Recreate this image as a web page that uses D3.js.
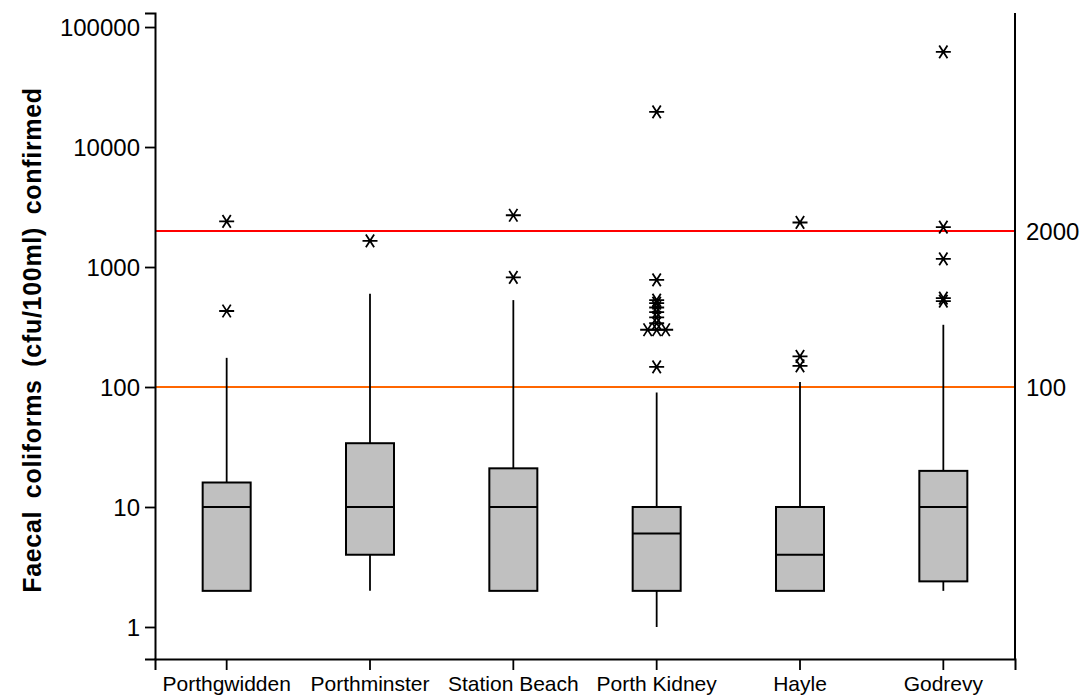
<!DOCTYPE html>
<html><head><meta charset="utf-8">
<script src="https://cdn.jsdelivr.net/npm/d3@7"></script>
<style>
body{margin:0;background:#fff;}
</style></head>
<body><svg id="c" width="1083" height="698"></svg>
<script>
const categories = ["Porthgwidden","Porthminster","Station Beach","Porth Kidney","Hayle","Godrevy"];
const q1 =        [2,   4,   2,   2,  2,   2.4];
const medians =   [10,  10,  10,  6,  4,   10];
const q3 =        [16,  34,  21,  10, 10,  20];
const whiskerLo = [2,   2,   2,   1,  2,   2];
const whiskerHi = [175, 600, 530, 90, 110, 330];
const outliers = [
  [2400, 430],
  [1650],
  [2700, 820],
  [19600, 780, 530, 500, 460, 420, 380, 340, 300, 300, 300, 147],
  [2350, 180, 150],
  [62000, 2150, 1170, 550, 520]
];
const yTicks = [1, 10, 100, 1000, 10000, 100000];
const refLines = [{value: 2000, color: "#ff0000", label: "2000"}, {value: 100, color: "#ff6600", label: "100"}];
const yTitle = "Faecal coliforms (cfu/100ml) confirmed";

const FONT = "Liberation Sans, Arial, sans-serif";
const svg = d3.select("#c");
const L = 155, R = 1015, T = 13, B = 659;
const y = d3.scaleLog().domain([0.541, 130900]).range([B, T]);
const x = d3.scaleBand().domain(categories).range([L, R]).paddingInner(0).paddingOuter(0);
const cx = c => x(c) + x.bandwidth() / 2;
const bw = 48;

// reference lines
refLines.forEach(r => {
  svg.append("line").attr("x1", L).attr("x2", R).attr("y1", y(r.value)).attr("y2", y(r.value))
    .attr("stroke", r.color).attr("stroke-width", 2);
  svg.append("text").attr("x", R + 11).attr("y", y(r.value)).attr("dy", "0.36em")
    .attr("font-family", FONT).attr("font-size", 24).text(r.label);
});

// boxes
categories.forEach((c, i) => {
  const g = svg.append("g");
  const xc = cx(c);
  g.append("line").attr("x1", xc).attr("x2", xc).attr("y1", y(q3[i])).attr("y2", y(whiskerHi[i]))
    .attr("stroke", "#000").attr("stroke-width", 1.8);
  g.append("line").attr("x1", xc).attr("x2", xc).attr("y1", y(q1[i])).attr("y2", y(whiskerLo[i]))
    .attr("stroke", "#000").attr("stroke-width", 1.8);
  g.append("rect").attr("x", xc - bw / 2).attr("width", bw).attr("y", y(q3[i]))
    .attr("height", y(q1[i]) - y(q3[i])).attr("fill", "#c0c0c0").attr("stroke", "#000").attr("stroke-width", 2);
  g.append("line").attr("x1", xc - bw / 2).attr("x2", xc + bw / 2).attr("y1", y(medians[i])).attr("y2", y(medians[i]))
    .attr("stroke", "#000").attr("stroke-width", 2);
  // outliers, ties spread horizontally
  const counts = d3.rollup(outliers[i], v => v.length, d => d);
  const seen = new Map();
  outliers[i].forEach(v => {
    const n = counts.get(v), k = seen.get(v) || 0; seen.set(v, k + 1);
    const off = (k - (n - 1) / 2) * 9;
    const px = xc + off, py = y(v);
    const s = 7.5;
    const p = `M${px - s},${py}L${px + s},${py}` +
      `M${px - s * 0.55},${py - s * 0.85}L${px + s * 0.55},${py + s * 0.85}` +
      `M${px + s * 0.55},${py - s * 0.85}L${px - s * 0.55},${py + s * 0.85}`;
    g.append("path").attr("d", p).attr("stroke", "#000").attr("stroke-width", 1.8).attr("fill", "none");
  });
});

// left axis
const ya = svg.append("g").attr("transform", `translate(${L},0)`)
  .call(d3.axisLeft(y).tickValues(yTicks).tickFormat(d3.format("d")).tickSizeOuter(0).tickSize(10).tickPadding(5));
ya.select(".domain").attr("stroke-width", 2);
ya.selectAll(".tick line").attr("stroke-width", 1.8);
ya.selectAll("text").attr("font-size", 24).attr("font-family", FONT).attr("fill", "#000").attr("dy", "0.36em");

// bottom axis
const xa = svg.append("g").attr("transform", `translate(0,${B})`)
  .call(d3.axisBottom(x).tickSizeOuter(0).tickSize(11).tickPadding(0));
xa.select(".domain").attr("stroke-width", 2);
xa.selectAll(".tick line").attr("stroke-width", 1.8);
xa.selectAll("text").attr("font-size", 21).attr("font-family", FONT)
  .attr("fill", "#000").attr("y", 32).attr("dy", 0);

// right frame line
svg.append("line").attr("x1", R).attr("x2", R).attr("y1", T).attr("y2", B).attr("stroke", "#000").attr("stroke-width", 2);

// y title
svg.append("text").attr("transform", `translate(41,${340}) rotate(-90)`)
  .attr("text-anchor", "middle").attr("font-family", FONT).attr("font-size", 25).attr("font-weight", "bold")
  .attr("word-spacing", 5).attr("letter-spacing", 0.7).text(yTitle);
</script></body></html>
